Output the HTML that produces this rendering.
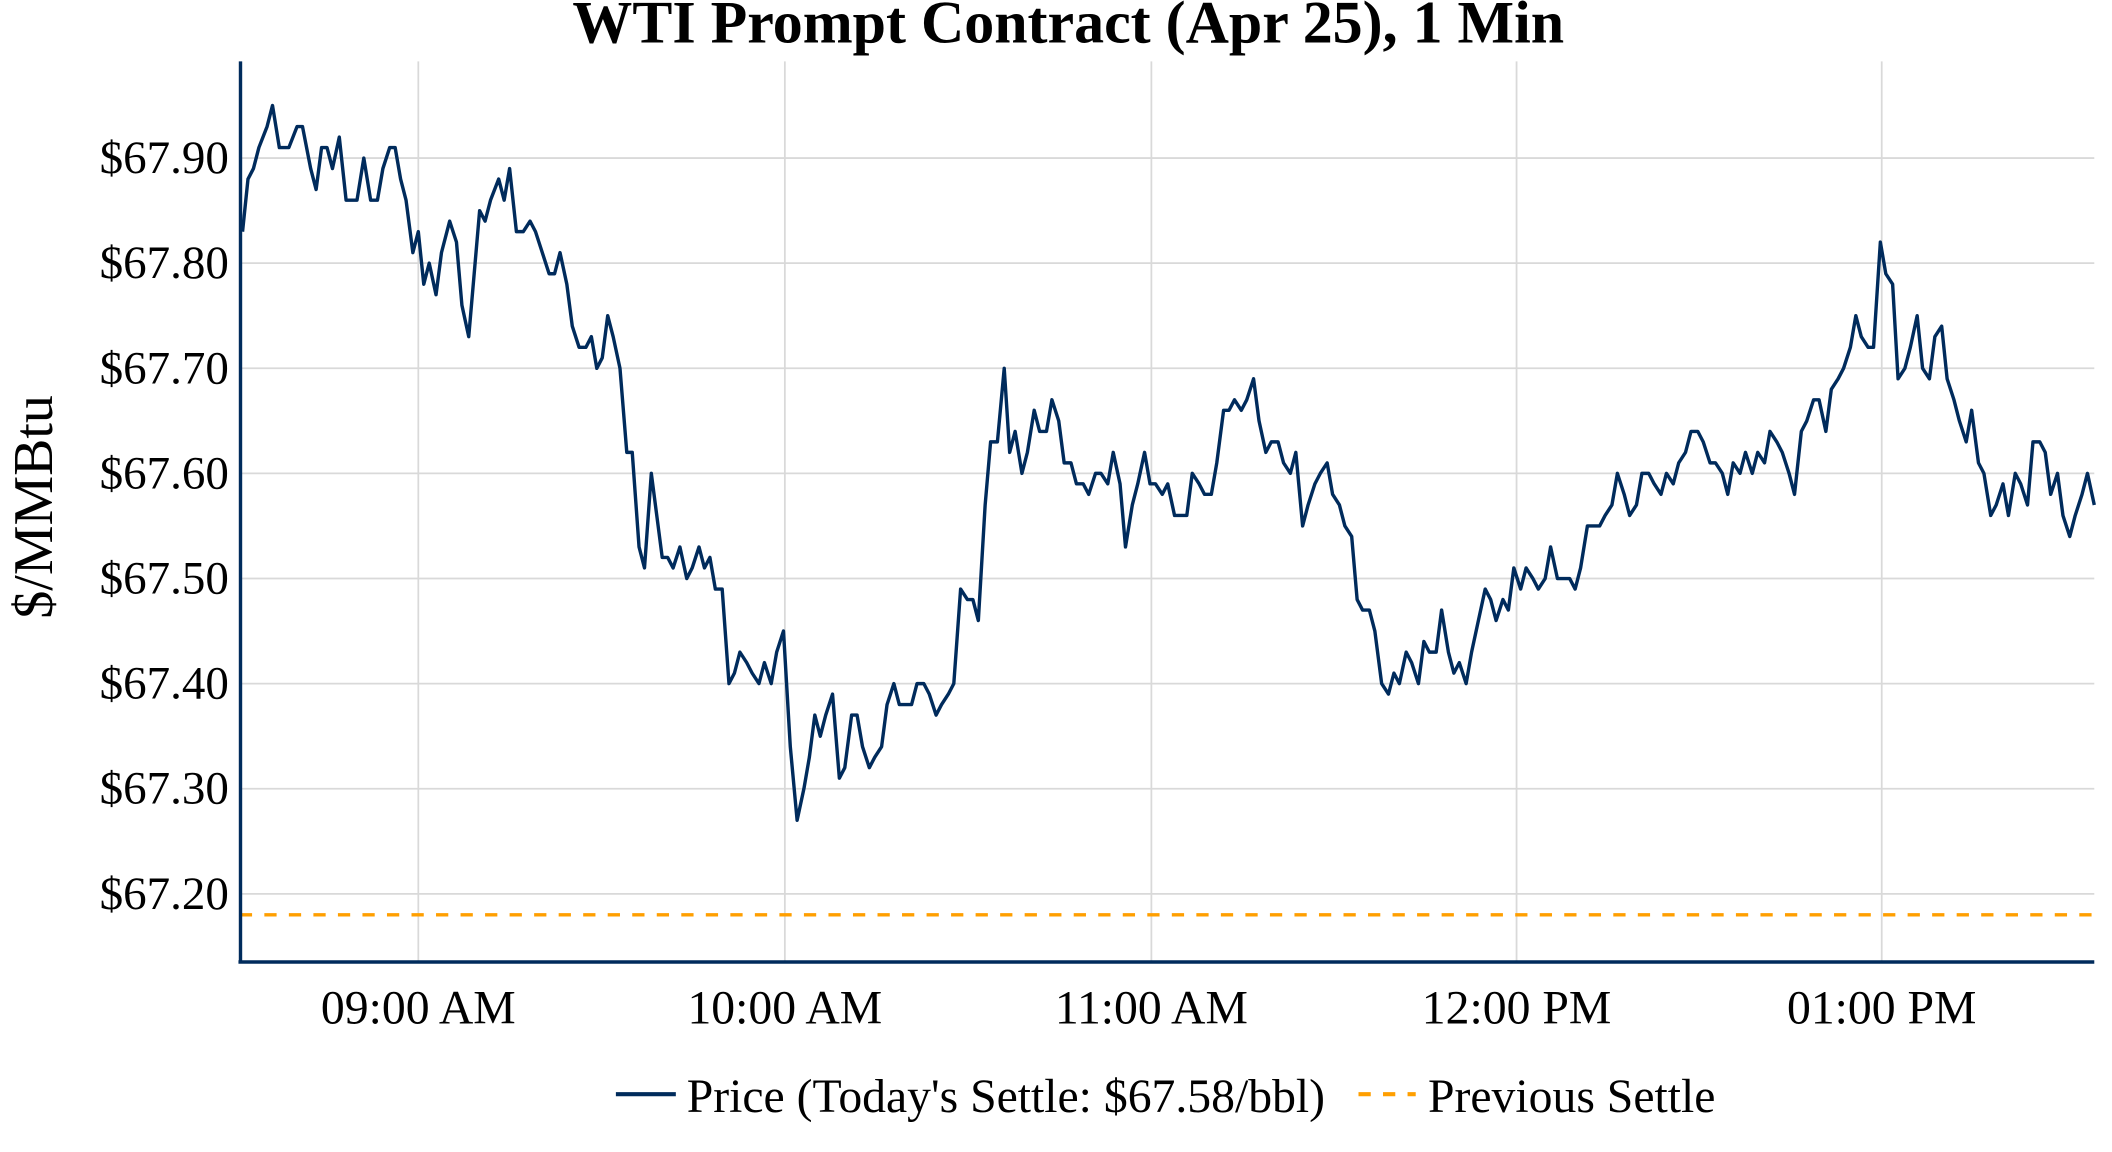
<!DOCTYPE html>
<html><head><meta charset="utf-8"><style>
html,body{margin:0;padding:0;background:#fff;}
svg{display:block;}
text{font-family:"Liberation Serif",serif;fill:#000;}
</style></head><body>
<svg id="s" width="2112" height="1152" viewBox="0 0 1550 845.45" preserveAspectRatio="none" xmlns="http://www.w3.org/2000/svg">
<rect width="1550" height="846" fill="#fff"/>
<g id="grid" stroke="#d9d9d9" stroke-width="1.3"></g>
<g id="yl" font-size="34.5" text-anchor="end"></g>
<g font-size="35" text-anchor="middle">
<text x="307" y="751">09:00 AM</text>
<text x="576" y="751">10:00 AM</text>
<text x="845" y="751">11:00 AM</text>
<text x="1113" y="751">12:00 PM</text>
<text x="1381" y="751">01:00 PM</text>
</g>
<text x="784" y="31" font-size="44" font-weight="bold" text-anchor="middle">WTI Prompt Contract (Apr 25), 1 Min</text>
<text transform="translate(38,372) rotate(-90)" font-size="41" text-anchor="middle">$/MMBtu</text>
<line x1="176" y1="671.4" x2="1537" y2="671.4" stroke="#ff9f00" stroke-width="2.5" stroke-dasharray="9,9"/>
<polyline id="p" fill="none" stroke="#002b5c" stroke-width="2.5" stroke-linejoin="round"/>
<line x1="176.5" y1="45" x2="176.5" y2="707" stroke="#002b5c" stroke-width="2.5"/>
<line x1="175" y1="706" x2="1537" y2="706" stroke="#002b5c" stroke-width="2.5"/>
<line x1="452" y1="803" x2="496" y2="803" stroke="#002b5c" stroke-width="3"/>
<text x="504" y="816" font-size="35">Price (Today's Settle: $67.58/bbl)</text>
<line x1="997" y1="803" x2="1039" y2="803" stroke="#ff9f00" stroke-width="3" stroke-dasharray="9,9"/>
<text x="1048" y="816" font-size="35">Previous Settle</text>
</svg>
<script>
var Y=function(v){return 116+(67.90-v)*771.4;};
var g=document.getElementById('grid'),yl=document.getElementById('yl'),ns='http://www.w3.org/2000/svg';
for(var i=0;i<8;i++){var v=67.20+i*0.1,y=Y(v);
var l=document.createElementNS(ns,'line');l.setAttribute('x1',176);l.setAttribute('x2',1537);l.setAttribute('y1',y);l.setAttribute('y2',y);g.appendChild(l);
var t=document.createElementNS(ns,'text');t.setAttribute('x',168);t.setAttribute('y',y+11);t.textContent='$'+v.toFixed(2);yl.appendChild(t);}
[307,576,845,1113,1381].forEach(function(x){var l=document.createElementNS(ns,'line');l.setAttribute('x1',x);l.setAttribute('x2',x);l.setAttribute('y1',45);l.setAttribute('y2',706);g.appendChild(l);});
var d=[178,67.83,182,67.88,186,67.89,190,67.91,196,67.93,200,67.95,205,67.91,212,67.91,218,67.93,222,67.93,228,67.89,232,67.87,236,67.91,240,67.91,244,67.89,249,67.92,254,67.86,262,67.86,267,67.90,272,67.86,277,67.86,281,67.89,286,67.91,290,67.91,294,67.88,298,67.86,303,67.81,307,67.83,311,67.78,315,67.80,320,67.77,324,67.81,330,67.84,335,67.82,339,67.76,344,67.73,348,67.79,352,67.85,356,67.84,360,67.86,366,67.88,370,67.86,374,67.89,379,67.83,384,67.83,389,67.84,393,67.83,398,67.81,403,67.79,407,67.79,411,67.81,416,67.78,420,67.74,425,67.72,430,67.72,434,67.73,438,67.70,442,67.71,446,67.75,450,67.73,455,67.70,460,67.62,464,67.62,469,67.53,473,67.51,478,67.60,482,67.56,486,67.52,490,67.52,494,67.51,499,67.53,504,67.50,508,67.51,513,67.53,517,67.51,521,67.52,525,67.49,530,67.49,535,67.40,539,67.41,543,67.43,548,67.42,552,67.41,557,67.40,561,67.42,566,67.40,570,67.43,575,67.45,580,67.34,585,67.27,590,67.30,594,67.33,598,67.37,602,67.35,606,67.37,611,67.39,616,67.31,620,67.32,625,67.37,629,67.37,633,67.34,638,67.32,642,67.33,647,67.34,651,67.38,656,67.40,660,67.38,665,67.38,669,67.38,673,67.40,678,67.40,682,67.39,687,67.37,691,67.38,696,67.39,700,67.40,705,67.49,710,67.48,714,67.48,718,67.46,723,67.57,727,67.63,732,67.63,737,67.70,741,67.62,745,67.64,750,67.60,754,67.62,759,67.66,763,67.64,768,67.64,772,67.67,777,67.65,781,67.61,786,67.61,790,67.59,795,67.59,799,67.58,804,67.60,808,67.60,813,67.59,817,67.62,822,67.59,826,67.53,831,67.57,835,67.59,840,67.62,844,67.59,848,67.59,853,67.58,857,67.59,862,67.56,866,67.56,871,67.56,875,67.60,880,67.59,884,67.58,889,67.58,893,67.61,898,67.66,902,67.66,906,67.67,911,67.66,915,67.67,920,67.69,924,67.65,929,67.62,933,67.63,938,67.63,942,67.61,947,67.60,951,67.62,956,67.55,960,67.57,965,67.59,969,67.60,974,67.61,978,67.58,983,67.57,987,67.55,992,67.54,996,67.48,1000,67.47,1005,67.47,1009,67.45,1014,67.40,1019,67.39,1023,67.41,1027,67.40,1032,67.43,1036,67.42,1041,67.40,1045,67.44,1049,67.43,1054,67.43,1058,67.47,1063,67.43,1067,67.41,1071,67.42,1076,67.40,1080,67.43,1085,67.46,1090,67.49,1094,67.48,1098,67.46,1103,67.48,1107,67.47,1111,67.51,1116,67.49,1120,67.51,1125,67.50,1129,67.49,1134,67.50,1138,67.53,1143,67.50,1147,67.50,1152,67.50,1156,67.49,1160,67.51,1165,67.55,1169,67.55,1174,67.55,1178,67.56,1183,67.57,1187,67.60,1192,67.58,1196,67.56,1201,67.57,1205,67.60,1210,67.60,1214,67.59,1219,67.58,1223,67.60,1228,67.59,1232,67.61,1237,67.62,1241,67.64,1246,67.64,1250,67.63,1255,67.61,1259,67.61,1264,67.60,1268,67.58,1272,67.61,1277,67.60,1281,67.62,1286,67.60,1290,67.62,1295,67.61,1299,67.64,1304,67.63,1308,67.62,1313,67.60,1317,67.58,1322,67.64,1326,67.65,1331,67.67,1335,67.67,1340,67.64,1344,67.68,1349,67.69,1353,67.70,1358,67.72,1362,67.75,1366,67.73,1371,67.72,1375,67.72,1380,67.82,1384,67.79,1389,67.78,1393,67.69,1398,67.70,1402,67.72,1407,67.75,1411,67.70,1416,67.69,1420,67.73,1425,67.74,1429,67.69,1434,67.67,1438,67.65,1443,67.63,1447,67.66,1452,67.61,1456,67.60,1461,67.56,1465,67.57,1470,67.59,1474,67.56,1479,67.60,1483,67.59,1488,67.57,1492,67.63,1497,67.63,1501,67.62,1505,67.58,1510,67.60,1514,67.56,1519,67.54,1523,67.56,1528,67.58,1532,67.60,1537,67.57];
var pts=[];for(var k=0;k<d.length;k+=2)pts.push(d[k]+','+Y(d[k+1]).toFixed(1));
document.getElementById('p').setAttribute('points',pts.join(' '));
</script>
</body></html>
